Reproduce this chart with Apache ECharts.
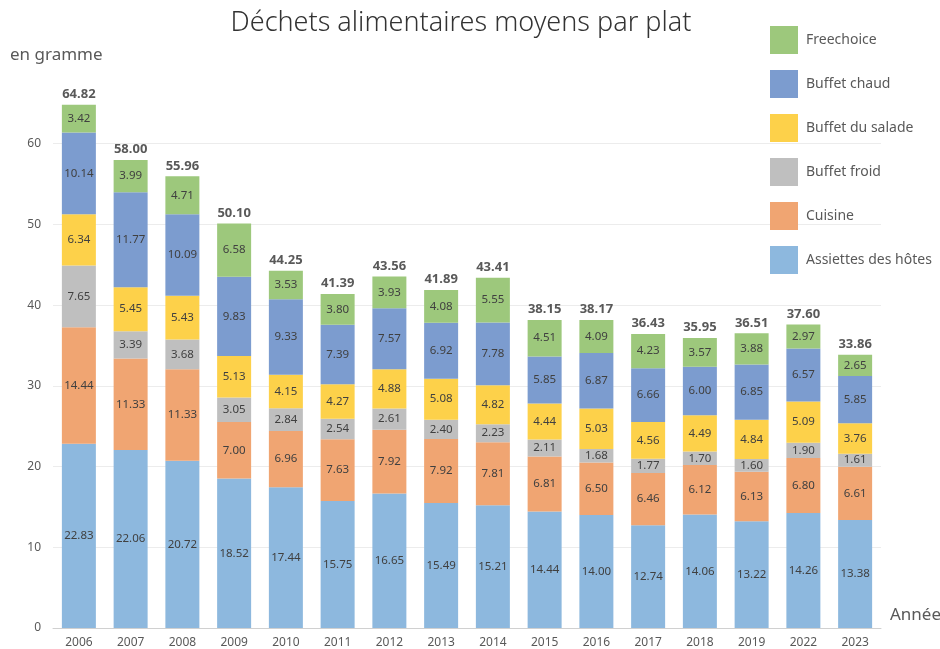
<!DOCTYPE html>
<html><head><meta charset="utf-8">
<script src="https://cdn.jsdelivr.net/npm/echarts@6/dist/echarts.min.js"></script>
<style>html,body{margin:0;padding:0;background:#fff}#c{width:940px;height:649px}</style>
</head><body><div id="c"></div>
<script>
const years = ['2006','2007','2008','2009','2010','2011','2012','2013','2014','2015','2016','2017','2018','2019','2022','2023'];
const assiettes = [22.83,22.06,20.72,18.52,17.44,15.75,16.65,15.49,15.21,14.44,14.00,12.74,14.06,13.22,14.26,13.38];
const cuisine = [14.44,11.33,11.33,7.00,6.96,7.63,7.92,7.92,7.81,6.81,6.50,6.46,6.12,6.13,6.80,6.61];
const buffetFroid = [7.65,3.39,3.68,3.05,2.84,2.54,2.61,2.40,2.23,2.11,1.68,1.77,1.70,1.60,1.90,1.61];
const buffetSalade = [6.34,5.45,5.43,5.13,4.15,4.27,4.88,5.08,4.82,4.44,5.03,4.56,4.49,4.84,5.09,3.76];
const buffetChaud = [10.14,11.77,10.09,9.83,9.33,7.39,7.57,6.92,7.78,5.85,6.87,6.66,6.00,6.85,6.57,5.85];
const freechoice = [3.42,3.99,4.71,6.58,3.53,3.80,3.93,4.08,5.55,4.51,4.09,4.23,3.57,3.88,2.97,2.65];
const totals = [64.82,58.00,55.96,50.10,44.25,41.39,43.56,41.89,43.41,38.15,38.17,36.43,35.95,36.51,37.60,33.86];

const FONT = '"Noto Sans", "Open Sans", sans-serif';
const chart = echarts.init(document.getElementById('c'));
function seg(name, data, color) {
  return {
    name, type: 'bar', stack: 'total', data, barWidth: 34, barGap: '-100%',
    itemStyle: { color },
    label: { show: true, position: 'inside', fontSize: 11.5, color: '#404040', fontFamily: FONT,
      formatter: p => p.value.toFixed(2) }
  };
}
chart.setOption({
  animation: false,
  textStyle: { fontFamily: FONT },
  title: { text: 'Déchets alimentaires moyens par plat', left: 456, top: 5, textAlign: 'center',
    textStyle: { fontSize: 27, fontWeight: 300, color: '#333', fontFamily: FONT } },
  legend: {
    orient: 'vertical', left: 765, top: 21, itemWidth: 28, itemHeight: 28, itemGap: 16,
    icon: 'rect',
    data: ['Freechoice','Buffet chaud','Buffet du salade','Buffet froid','Cuisine','Assiettes des hôtes'],
    textStyle: { fontSize: 14, color: '#595959', fontFamily: FONT, padding: [0,0,0,3] }
  },
  grid: { left: 53, right: 59, top: 63, bottom: 21 },
  xAxis: {
    type: 'category', data: years,
    axisLine: { lineStyle: { color: '#d0d0d0' } }, axisTick: { show: false },
    axisLabel: { fontSize: 12, color: '#595959', margin: 9 }
  },
  yAxis: {
    type: 'value', min: 0, max: 70, interval: 10,
    axisLabel: { fontSize: 12, color: '#595959', margin: 12, showMaxLabel: false },
    splitLine: { lineStyle: { color: '#ececec' }, showMaxLine: false }
  },
  graphic: [
    { type: 'text', left: 10, top: 47, style: { text: 'en gramme', fontSize: 17, fill: '#595959', fontFamily: FONT } },
    { type: 'text', left: 890, top: 607, style: { text: 'Année', fontSize: 17, fill: '#595959', fontFamily: FONT } }
  ],
  series: [
    {
      name: 'Total', type: 'bar', data: totals, barWidth: 34, barGap: '-100%', z: 1,
      itemStyle: { color: 'rgba(0,0,0,0)' }, tooltip: { show: false },
      label: { show: true, position: 'top', distance: 4, fontSize: 13, fontWeight: 'bold', color: '#595959',
        formatter: p => p.value.toFixed(2) }
    },
    seg('Assiettes des hôtes', assiettes, '#8DB8DE'),
    seg('Cuisine', cuisine, '#F0A572'),
    seg('Buffet froid', buffetFroid, '#BFBFBF'),
    seg('Buffet du salade', buffetSalade, '#FDD14A'),
    seg('Buffet chaud', buffetChaud, '#7C9CCF'),
    seg('Freechoice', freechoice, '#9DC87C')
  ]
});
</script></body></html>
